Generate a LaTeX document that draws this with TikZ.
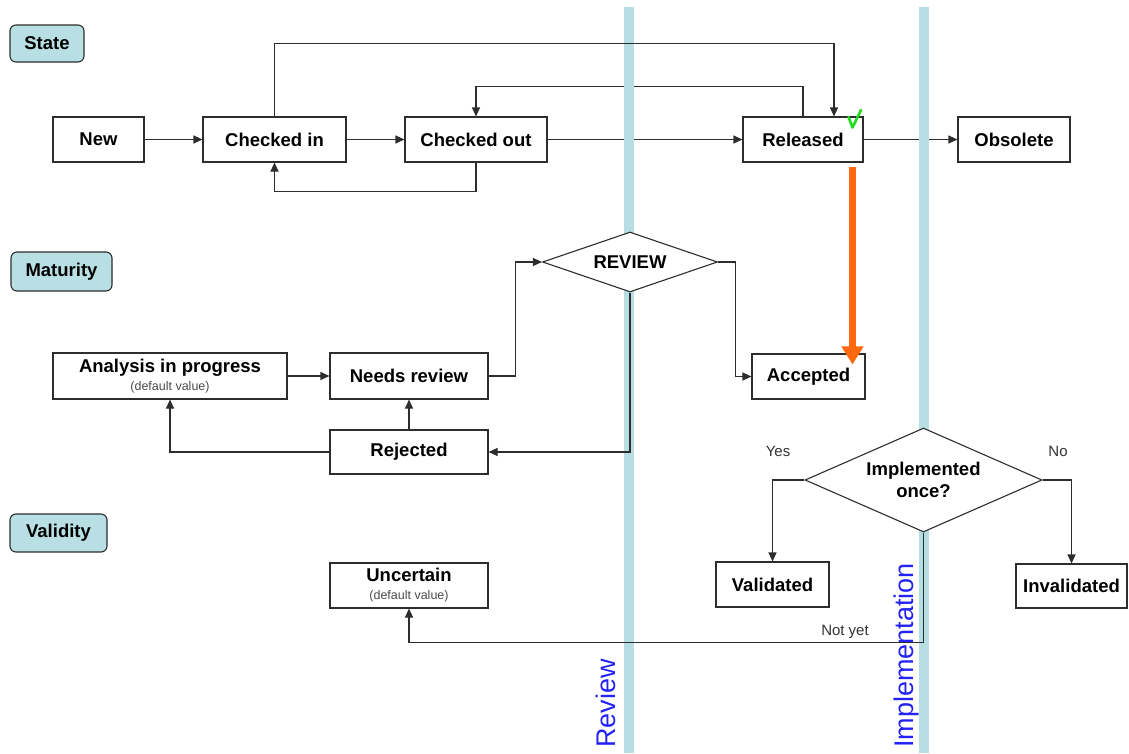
\documentclass[tikz,border=0pt]{standalone}
\usepackage{fontspec}
\setmainfont{Liberation Sans}
\usetikzlibrary{shapes.geometric,arrows.meta,calc}
\pgfdeclarelayer{paper}
\pgfdeclarelayer{bg}
\pgfsetlayers{paper,bg,main}
\definecolor{lanecol}{RGB}{183,222,226}
\definecolor{tagfill}{RGB}{184,224,228}
\definecolor{edgecol}{RGB}{45,45,45}
\definecolor{hotarrow}{RGB}{255,104,16}
\definecolor{okgreen}{RGB}{30,220,30}
\definecolor{lanetext}{RGB}{35,35,245}
\newcommand\boxfont{\fontsize{18.5}{22}\selectfont\bfseries}
\newcommand\notefont{\fontsize{12.5}{14}\selectfont\mdseries\color{black!70}}
\newcommand\edgefont{\fontsize{15}{17}\selectfont}
\newcommand\lanefont{\fontsize{27}{30}\selectfont}
\tikzset{
  box/.style={draw=edgecol, line width=1.1pt, fill=white, inner sep=0pt,
              font=\boxfont, align=center},
  tag/.style={draw=edgecol, line width=1.1pt, fill=tagfill, rounded corners=6pt,
              inner sep=0pt, font=\boxfont},
  decision/.style={diamond, draw=edgecol, line width=1.1pt, fill=white, inner sep=0pt,
              font=\boxfont, align=center},
  flow/.style={draw=edgecol, line width=1.1pt, -{Triangle[length=9pt,width=8pt]}},
  lane/.style={fill=lanecol, draw=none},
  lanelabel/.style={font=\lanefont, text=lanetext, rotate=90, inner sep=0pt},
  edgelabel/.style={font=\edgefont, text=black!80, inner sep=0pt}
}
\begin{document}
\begin{tikzpicture}[x=1pt,y=-1pt]
\useasboundingbox (0,0) rectangle (1129,753);
\begin{pgfonlayer}{paper}
  \fill[white] (0,0) rectangle (1129,753);
\end{pgfonlayer}

% swim-lane separators
\path[lane] (624,7) rectangle (634,753);
\path[lane] (919,7) rectangle (929,753);
\node[lanelabel, anchor=base west] (revlane) at (615,748) {Review};
\node[lanelabel, anchor=base west] (implane) at (913,748) {Implementation};

% section tags
\node[tag, minimum width=74pt, minimum height=37pt] (tstate) at (47,43.5) {State};
\node[tag, minimum width=101pt, minimum height=39pt] (tmat) at (61.5,271.5) {Maturity};
\node[tag, minimum width=97pt, minimum height=38pt] (tval) at (58.5,533) {Validity};

% state row
\node[box, minimum width=91pt, minimum height=45pt] (new) at (98.5,139.5) {New};
\node[box, minimum width=143pt, minimum height=45pt] (ci) at (274.5,139.5) {Checked in};
\node[box, minimum width=142pt, minimum height=45pt] (co) at (476,139.5) {Checked out};
\node[box, minimum width=120pt, minimum height=45pt] (rel) at (803,139.5) {Released};
\node[box, minimum width=112pt, minimum height=45pt] (obs) at (1014,139.5) {Obsolete};

% maturity row
\node[box, minimum width=234pt, minimum height=46pt] (anal) at (170,376)
  {\raisebox{-3pt}{Analysis in progress}\\[-1pt]{\notefont (default value)}};
\node[box, minimum width=158pt, minimum height=46pt] (need) at (409,376) {Needs review};
\node[box, minimum width=158pt, minimum height=44pt] (rej) at (409,452) {Rejected};
\node[decision, minimum width=175pt, minimum height=60pt, aspect=2.9] (rev) at (630,262) {REVIEW};
\node[box, minimum width=113pt, minimum height=45pt] (acc) at (808.5,376.5) {Accepted};

% validity row
\node[decision, minimum width=237pt, minimum height=104pt, aspect=2.28] (impl) at (923.5,480)
  {Implemented\\once?};
\node[box, minimum width=113pt, minimum height=45pt] (val) at (772.5,584.5) {Validated};
\node[box, minimum width=111pt, minimum height=44pt] (inval) at (1071.5,586) {Invalidated};
\node[box, minimum width=158pt, minimum height=45pt] (unc) at (409,585.5)
  {\raisebox{-2pt}{Uncertain}\\[-2pt]{\notefont (default value)}};

% release tick
\draw[okgreen, line width=2.6pt, line cap=round, line join=round]
  (848.5,117) -- (852.5,127.5) -- (861,110);

% state transitions passing behind the lanes
\begin{pgfonlayer}{bg}
  \draw[flow] (co) -- (rel);
  \draw[flow] (rel) -- (obs);
  \draw[flow] (rel.north) -- ++(0,-30) -| (co.north);
\end{pgfonlayer}

% state transitions
\draw[flow] (new) -- (ci);
\draw[flow] (ci) -- (co);
\draw[flow] (ci.north) -- ++(0,-73) -| ([xshift=31pt]rel.north);
\draw[flow] (co.south) -- ++(0,29) -| (ci.south);

% maturity transitions
\draw[flow] (anal) -- (need);
\draw[flow] (need.east) -- ++(27,0) |- (rev.west);
\draw[flow] (rev.east) -- ++(17,0) |- (acc.west);
\draw[flow] (rev.south) |- (rej.east);
\draw[flow] (rej.north) -- (need.south);
\draw[flow] (rej.west) -| (anal.south);

% release forces acceptance
\coordinate (hotstart) at ([xshift=49.5pt,yshift=-4pt]rel.south);
\coordinate (hotend) at ([yshift=-11pt]acc.north);
\draw[hotarrow, line width=7pt, -{Triangle[length=18pt,width=21pt]}]
  (hotstart) -- (hotstart |- hotend);

% validity transitions
\draw[flow] (impl.west) -| (val.north);
\draw[flow] (impl.east) -| (inval.north);
\draw[flow] (impl.south) -- ++(0,110) -| (unc.south);

% branch labels
\node[edgelabel] (lyes) at (778,451) {Yes};
\node[edgelabel] (lno) at (1058,451) {No};
\node[edgelabel] (lnot) at (845,632) {Not yet};
\end{tikzpicture}
\end{document}
